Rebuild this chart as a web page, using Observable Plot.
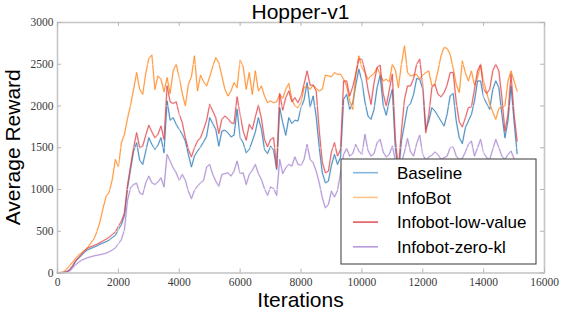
<!DOCTYPE html>
<html><head><meta charset="utf-8">
<script src="https://cdn.jsdelivr.net/npm/d3@7"></script>
<script src="https://cdn.jsdelivr.net/npm/@observablehq/plot@0.6"></script>
<style>html,body{margin:0;padding:0;background:#fff;} svg{display:block}</style>
</head><body><div id="chart"></div>
<script>
// ---- data ----
const iterations = d3.range(0, 15200, 100); // 0 .. 15100

const baseline = [
  0, 2, 5, 15, 35, 80, 140, 180, 215, 255, 280,
  295, 310, 325, 345, 360, 375, 395, 425, 450, 520,
  580, 690, 1020, 1240, 1460, 1560, 1350, 1300, 1460, 1620,
  1540, 1480, 1530, 1620, 1440, 2060, 1830, 1860, 1780, 1720,
  1660, 1580, 1420, 1270, 1400, 1460, 1510, 1570, 1640, 1860,
  1790, 1720, 1520, 1700, 1710, 1680, 1630, 1650, 1960, 1620,
  1560, 1440, 1480, 1580, 1690, 1860, 1720, 1480, 1430, 1520,
  1470, 1240, 1980, 1800, 1650, 1860, 1790, 1830, 1820, 1980,
  2070, 2280, 1990, 2120, 1870, 1500, 1200, 1080, 1100, 1290,
  1420, 1300, 1390, 2080, 2140, 1960, 2040, 2250, 2440, 2300,
  2050, 1880, 1840, 1960, 2220, 2370, 2010, 1890, 2060, 2200,
  1500, 1180, 1580, 1780, 1990, 2030, 2140, 2330, 2320, 2200,
  1720, 1820, 1980, 1940, 1880, 1820, 1760, 1900, 2120, 2150,
  1820, 1620, 1550, 1740, 1820, 1900, 2060, 2300, 2300, 2100,
  2030, 1960, 2200, 2300, 2220, 1900, 1620, 1820, 2240, 1820,
  1430
];
const infobot = [
  0, 3, 15, 45, 90, 130, 180, 215, 245, 275, 310,
  360, 410, 500, 620, 780, 920, 970, 1120, 1360, 1270,
  1560, 1660, 1850, 2010, 2200, 2400, 2200, 2140, 2390, 2570,
  2610, 2200, 2360, 2320, 2170, 2340, 2150, 2420, 2500, 2340,
  2150, 2000, 2260, 2350, 2600, 2180, 2370, 2290, 2240, 2350,
  2470, 2580, 2520, 2360, 2200, 2120, 2180, 2280, 2220, 2550,
  2470, 2200, 2400, 2140, 2420, 2180, 2240, 2120, 2040, 2060,
  2040, 2050, 2140, 2090, 2200, 2270, 2080, 2000, 1980, 2040,
  2220, 2240, 2200, 2250, 2210, 2180, 2200, 2370, 2360, 2350,
  2400, 2380, 2380, 2320, 2240, 2060, 1960, 2380, 2600, 2460,
  2400, 2320, 2360, 2390, 2460, 2380, 2300, 2320, 2290, 2500,
  2430, 2220, 2500, 2720, 2400, 2360, 2370, 2380, 2320, 2370,
  2400, 2420, 2240, 2260, 2420, 2600, 2700, 2690, 2620, 2450,
  2260, 2160, 2540, 2400, 2300, 2420, 2250, 2340, 2490, 2300,
  2160, 2030, 1930, 1840, 1970, 1990, 2000, 2300, 2420, 2300,
  2180
];
const lowValue = [
  0, 2, 5, 15, 40, 90, 150, 190, 230, 270, 300,
  315, 330, 345, 365, 385, 405, 430, 460, 490, 560,
  620, 720, 1050, 1280, 1500, 1680, 1500, 1520, 1650, 1770,
  1690, 1620, 1660, 1760, 1600, 2240, 2050, 2030, 2050, 1900,
  1800, 1620, 1480, 1390, 1500, 1580, 1620, 1720, 1830, 2020,
  1940, 1860, 1670, 1840, 1880, 1850, 1800, 1790, 2110, 1900,
  1700, 1590, 1780, 1720, 1870, 2010, 1850, 1600, 1510, 1600,
  1620, 1260, 2150, 1950, 2100, 2180, 2050, 2100, 2040, 2120,
  2260, 2420, 2250, 2250, 2180, 1700, 1330, 1200, 1220, 1450,
  1560, 1400, 1480, 2300, 2300, 2120, 2230, 2380, 2560, 2560,
  2420, 2200, 2020, 2280, 2460, 2490, 2150, 2000, 2190, 2380,
  1600, 1250, 1700, 2080, 2240, 2240, 2330, 2500, 2560, 2250,
  1680, 1900, 2220, 2260, 2140, 2110, 2160, 2250, 2400, 2400,
  2050, 1810, 1750, 1860, 1980, 1990, 2200, 2420, 2500, 2200,
  2150, 2200, 2420, 2500, 2420, 2100, 1700, 1900, 2380, 1900,
  1580
];
const zeroKl = [
  0, 2, 4, 10, 25, 60, 100, 130, 155, 170, 185,
  195, 205, 212, 220, 228, 238, 255, 275, 300, 350,
  400, 520, 870, 1020, 1060, 1075, 960, 940, 1080, 1160,
  1080, 1060, 1090, 1140, 1030, 1420, 1340, 1260, 1200, 1110,
  1180, 1110, 980, 890, 990, 1040, 1080, 1110, 1270, 1300,
  1180, 1100, 1040, 1180, 1190, 1200, 1160, 1220, 1340, 1190,
  1200, 1060, 1180, 1230, 1300, 1190, 1120, 1010, 930, 1030,
  1010, 930, 1360, 1190, 1260, 1300, 1280, 1390, 1300, 1290,
  1360, 1540, 1360, 1320, 1220, 1080, 900, 780, 820, 980,
  910, 990, 1200, 1420, 1490, 1400, 1430, 1540, 1460, 1420,
  1660, 1470, 1400, 1430, 1560, 1600, 1450, 1390, 1420, 1520,
  1350, 1250, 1320, 1450, 1610, 1450, 1400, 1550, 1650, 1420,
  1350, 1390, 1410, 1450, 1420, 1360, 1380, 1400, 1500, 1510,
  1400, 1360, 1370, 1450, 1540, 1580, 1400, 1500, 1600, 1440,
  1380, 1360, 1480, 1600, 1500, 1400, 1360, 1420, 1460, 1370,
  1300
];

const seriesNames = ["Baseline", "InfoBot", "Infobot-low-value", "Infobot-zero-kl"];
const xTicks = [0, 2000, 4000, 6000, 8000, 10000, 12000, 14000, 16000];
const yTicks = [0, 500, 1000, 1500, 2000, 2500, 3000];
const titleText = "Hopper-v1";
const xLabel = "Iterations";
const yLabel = "Average Reward";

// ---- styles ----
const lineColors = ["#2b7bba", "#ff8419", "#e0474c", "#a583d3"];
const haloColors = ["#1f77b4", "#ff7f0e", "#d62728", "#9467bd"];
const legendColors = ["#86b6dc", "#ffc48e", "#e4585c", "#b69bdc"];

const W = 565, H = 316;
const mT = 22, mB = 43.5, mL = 57, mR = 21;
const FW = W - mL - mR, FH = H - mT - mB;

const allValues = [baseline, infobot, lowValue, zeroKl];
const series = seriesNames.map((name, k) => ({
  name,
  rows: allValues[k].map((v, i) => ({x: iterations[i], y: v}))
}));

const lineMarks = [];
series.forEach((s, k) => {
  lineMarks.push(Plot.line(s.rows, {x: "x", y: "y", stroke: haloColors[k], strokeWidth: 2, strokeOpacity: 0.18}));
  lineMarks.push(Plot.line(s.rows, {x: "x", y: "y", stroke: lineColors[k], strokeWidth: 0.9, strokeOpacity: 0.9}));
});

const serif = "'Liberation Serif', 'Times New Roman', serif";
const sans = "'Liberation Sans', Arial, Helvetica, sans-serif";

const chart = Plot.plot({
  width: W, height: H,
  marginTop: mT, marginBottom: mB, marginLeft: mL, marginRight: mR,
  style: {background: "white", overflow: "visible"},
  x: {domain: [0, 16000]},
  y: {domain: [0, 3000]},
  marks: [
    ...lineMarks,
    Plot.ruleY(yTicks.slice(1, -1), {y: d => d, stroke: "white", strokeWidth: 0.8, strokeOpacity: 0.6}),
    Plot.ruleX(xTicks.slice(1, -1), {x: d => d, stroke: "white", strokeWidth: 0.8, strokeOpacity: 0.6}),
    Plot.frame({stroke: "#c6c6c6", strokeWidth: 1.6}),
    Plot.tickX(xTicks, {x: d => d, insetTop: FH - 4, stroke: "#b5b5b5", strokeWidth: 1}),
    Plot.tickX(xTicks, {x: d => d, insetBottom: FH - 4, stroke: "#b5b5b5", strokeWidth: 1}),
    Plot.tickY(yTicks, {y: d => d, insetRight: FW - 4, stroke: "#b5b5b5", strokeWidth: 1}),
    Plot.tickY(yTicks, {y: d => d, insetLeft: FW - 4, stroke: "#b5b5b5", strokeWidth: 1}),
    Plot.axisX({ticks: xTicks, tickSize: 0, tickPadding: 5, tickFormat: d => String(d), label: null,
      fontFamily: serif, fontSize: 11.5, fill: "#3a3a3a"}),
    Plot.axisY({ticks: yTicks, tickSize: 0, tickPadding: 4, tickFormat: d => String(d), label: null,
      fontFamily: serif, fontSize: 11.5, fill: "#3a3a3a"})
  ]
});

document.getElementById("chart").appendChild(chart);

const svg = d3.select(chart);
const cx = mL + FW / 2;
svg.append("text").attr("x", cx).attr("y", 18.5).attr("text-anchor", "middle")
  .attr("font-family", sans).attr("font-size", 21).attr("fill", "#000").text(titleText);
svg.append("text").attr("x", cx).attr("y", 306.5).attr("text-anchor", "middle")
  .attr("font-family", sans).attr("font-size", 21).attr("fill", "#000").text(xLabel);
svg.append("text").attr("transform", `translate(19.5,${mT + FH / 2}) rotate(-90)`).attr("text-anchor", "middle")
  .attr("font-family", sans).attr("font-size", 21).attr("fill", "#000").text(yLabel);

// legend
const lg = svg.append("g");
lg.append("rect").attr("x", 341).attr("y", 159).attr("width", 195).attr("height", 105)
  .attr("fill", "white").attr("stroke", "#4a4a4a").attr("stroke-width", 1.1);
seriesNames.forEach((name, k) => {
  const yy = 172.7 + k * 24.7;
  lg.append("line").attr("x1", 353).attr("x2", 378).attr("y1", yy).attr("y2", yy)
    .attr("stroke", legendColors[k]).attr("stroke-width", 1.6);
  lg.append("text").attr("x", 397).attr("y", yy).attr("dy", "0.36em").attr("text-anchor", "start")
    .attr("font-family", sans).attr("font-size", 17).attr("fill", "#000").text(name);
});
</script></body></html>
